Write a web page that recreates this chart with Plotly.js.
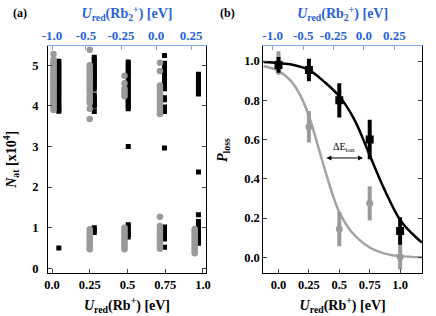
<!DOCTYPE html>
<html><head><meta charset="utf-8">
<script src="https://cdn.plot.ly/plotly-3.0.1.min.js"></script>
<style>html,body{margin:0;padding:0;background:#fff;}#plot{width:436px;height:316px;}</style>
</head><body><div id="plot"></div>
<script>
// ---- data (panel a): atom numbers N_at [x10^4] per cluster ----
const uTicks = [0, 0.25, 0.5, 0.75, 1.0];
const uTickText = ["0.0", "0.25", "0.5", "0.75", "1.0"];
const rb2TickText = ["-1.0", "-0.5", "-0.25", "0.0", "0.25"];
const rb2TickPosA = [0, 0.225, 0.457, 0.689, 0.921];
const rb2TickPosB = [-0.048, 0.204, 0.451, 0.703, 0.952];
const nTicks = [0, 1, 2, 3, 4, 5];
const pTicks = [0, 0.2, 0.4, 0.6, 0.8, 1.0];
const pTickText = ["0.0", "0.2", "0.4", "0.6", "0.8", "1.0"];

const greyU = [0.01, 0.25, 0.48, 0.715, 0.945];
const blackU = [0.045, 0.28, 0.505, 0.745, 0.97];

const greyN0 = [5.28, 5.14, 5.09, 5.05, 5.0, 4.96, 4.91, 4.86, 4.82, 4.77, 4.73, 4.68, 4.63, 4.59, 4.54, 4.5, 4.45, 4.41, 4.36, 4.31, 4.27, 4.22, 4.18, 4.13, 4.08, 4.04, 3.99, 3.94, 3.9];
const greyN25 = [5.38, 5.0, 4.93, 4.87, 4.8, 4.75, 4.69, 4.63, 4.58, 4.52, 4.46, 4.41, 4.35, 4.25, 4.18, 4.12, 4.07, 3.93, 3.68, 0.96, 0.9, 0.84, 0.78, 0.72, 0.67, 0.61, 0.56, 0.5, 0.47];
const greyN50 = [4.74, 4.56, 4.42, 4.36, 4.3, 4.24, 1.0, 0.95, 0.89, 0.84, 0.78, 0.73, 0.67, 0.62, 0.56, 0.51, 0.47];
const greyN75 = [5.06, 4.86, 4.5, 4.44, 4.38, 4.31, 4.22, 4.16, 4.09, 4.02, 3.95, 3.88, 3.8, 1.27, 1.04, 0.98, 0.92, 0.87, 0.81, 0.75, 0.7, 0.64, 0.58, 0.53, 0.48];
const greyN100 = [0.97, 0.92, 0.86, 0.8, 0.75, 0.69, 0.63, 0.58, 0.52, 0.47, 0.42, 0.37];

const blackN0 = [5.1, 5.04, 4.98, 4.92, 4.86, 4.8, 4.74, 4.68, 4.62, 4.56, 4.5, 4.44, 4.38, 4.32, 4.26, 4.2, 4.14, 4.08, 4.02, 3.96, 3.91, 3.87, 0.5];
const blackN25 = [5.2, 5.14, 5.08, 5.02, 4.96, 4.9, 4.84, 4.78, 4.72, 4.66, 4.6, 4.54, 4.48, 4.41, 4.27, 4.21, 4.15, 4.09, 4.03, 3.99, 3.86, 1.0, 0.94, 0.88];
const blackN50 = [5.08, 5.02, 4.96, 4.9, 4.84, 4.78, 4.72, 4.64, 4.58, 4.52, 4.46, 4.4, 4.34, 4.28, 4.22, 4.16, 4.1, 4.04, 3.98, 3.93, 3.0, 1.07, 1.01, 0.95, 0.89, 0.83, 0.77];
const blackN75 = [5.24, 5.05, 4.99, 4.93, 4.87, 4.81, 4.75, 4.69, 4.61, 4.55, 4.49, 4.42, 4.2, 4.15, 3.97, 3.91, 3.86, 2.96, 1.02, 0.96, 0.9, 0.84, 0.78, 0.72, 0.52];
const blackN100 = [4.78, 4.71, 4.64, 4.58, 4.52, 4.46, 4.4, 4.34, 4.29, 2.37, 1.32, 1.15, 1.09, 1.03, 0.97, 0.91, 0.85, 0.79, 0.73, 0.67, 0.62];

// ---- data (panel b): loss probability ----
const pU = [0, 0.25, 0.5, 0.75, 1.0];
const pBlack = [0.98, 0.954, 0.80, 0.60, 0.134];
const pBlackErr = [0.03, 0.047, 0.077, 0.09, 0.06];
const pGrey = [0.99, 0.665, 0.144, 0.275, 0.003];
const pGreyErr = [0.05, 0.07, 0.077, 0.077, 0.055];

const blackFitU = [-0.125, 0, 0.125, 0.25, 0.375, 0.5, 0.625, 0.75, 0.875, 1.0, 1.1, 1.18];
const blackFitP = [0.995, 0.99, 0.98, 0.955, 0.895, 0.82, 0.70, 0.52, 0.34, 0.19, 0.12, 0.075];
const greyFitU = [-0.125, 0, 0.1, 0.175, 0.25, 0.3, 0.375, 0.45, 0.5, 0.6, 0.75, 0.9, 1.0, 1.18];
const greyFitP = [0.975, 0.95, 0.90, 0.83, 0.72, 0.62, 0.46, 0.31, 0.23, 0.13, 0.05, 0.015, 0.006, 0.0];

const GREY = '#9a9a9a';
const BLUE = '#2a62d6';
const BLUELINE = '#7ea6e8';
const b = s => '<b>' + s + '</b>';

const greySets = [greyN0, greyN25, greyN50, greyN75, greyN100];
const blackSets = [blackN0, blackN25, blackN50, blackN75, blackN100];

const traces = [];
let bx = [], by = [];
blackSets.forEach((arr, i) => arr.forEach(v => { bx.push(blackU[i]); by.push(v); }));
traces.push({x: bx, y: by, xaxis: 'x', yaxis: 'y', type: 'scatter', mode: 'markers',
  marker: {symbol: 'square', size: 5, color: '#000'}, hoverinfo: 'skip'});
let gx = [], gy = [];
greySets.forEach((arr, i) => arr.forEach(v => { gx.push(greyU[i]); gy.push(v); }));
traces.push({x: gx, y: gy, xaxis: 'x', yaxis: 'y', type: 'scatter', mode: 'markers',
  marker: {symbol: 'circle', size: 6.5, color: GREY}, hoverinfo: 'skip'});

traces.push({x: greyFitU, y: greyFitP, xaxis: 'x2', yaxis: 'y2', type: 'scatter', mode: 'lines',
  line: {color: '#a3a3a3', width: 2.5, shape: 'spline', smoothing: 1}});
traces.push({x: blackFitU, y: blackFitP, xaxis: 'x2', yaxis: 'y2', type: 'scatter', mode: 'lines',
  line: {color: '#000', width: 2.5, shape: 'spline', smoothing: 1}});
traces.push({x: pU, y: pGrey, xaxis: 'x2', yaxis: 'y2', type: 'scatter', mode: 'markers',
  marker: {symbol: 'circle', size: 7, color: GREY},
  error_y: {type: 'data', array: pGreyErr, visible: true, color: GREY, thickness: 4, width: 2}});
traces.push({x: pU, y: pBlack, xaxis: 'x2', yaxis: 'y2', type: 'scatter', mode: 'markers',
  marker: {symbol: 'square', size: 8, color: '#000'},
  error_y: {type: 'data', array: pBlackErr, visible: true, color: '#000', thickness: 4, width: 2}});
traces.push({x: [0.5], y: [2], xaxis: 'x3', yaxis: 'y', mode: 'markers', marker: {opacity: 0}, hoverinfo: 'skip'});
traces.push({x: [0.5], y: [0.5], xaxis: 'x4', yaxis: 'y2', mode: 'markers', marker: {opacity: 0}, hoverinfo: 'skip'});

const FONT = 'Liberation Serif';
const tickF = {family: FONT, size: 12.5, color: '#000'};
const tickFB = {family: FONT, size: 13, color: BLUE};
const titleF = {family: FONT, size: 14, color: '#000'};
const titleFB = {family: FONT, size: 14, color: BLUE};
const botTitle = '<b><i>U</i><sub>red</sub>(Rb<sup>+</sup>) [eV]</b>';
const topTitle = '<b><i>U</i><sub>red</sub>(Rb<sub>2</sub><sup>+</sup>) [eV]</b>';

const yDom = [43.5 / 316, 270 / 316];
const baseX = {ticks: 'inside', ticklen: 4, tickwidth: 1, showline: true, linecolor: '#000', linewidth: 1,
  zeroline: false, showgrid: false, tickfont: tickF, tickvals: uTicks, ticktext: uTickText.map(b),
  title: {text: botTitle, font: titleF, standoff: 9}};
const topX = {ticks: 'inside', ticklen: 4, tickwidth: 1, showline: true, linecolor: BLUELINE, tickcolor: BLUELINE,
  linewidth: 1, zeroline: false, showgrid: false, tickfont: tickFB, side: 'top', ticktext: rb2TickText.map(b),
  title: {text: topTitle, font: titleFB, standoff: 5}};

const layout = {
  width: 436, height: 316, margin: {l: 0, r: 0, t: 0, b: 0},
  paper_bgcolor: '#fff', plot_bgcolor: '#fff', showlegend: false,
  font: {family: FONT, size: 12, color: '#000'},
  xaxis: Object.assign({}, baseX, {domain: [48 / 436, 206 / 436], range: [-0.0265, 1.02], anchor: 'y'}),
  xaxis3: Object.assign({}, topX, {domain: [48 / 436, 206 / 436], range: [-0.0265, 1.02], anchor: 'y', overlaying: 'x', tickvals: rb2TickPosA}),
  yaxis: {domain: yDom, range: [-0.103, 5.475], anchor: 'x', ticks: 'inside', ticklen: 4, showline: true, mirror: 'ticks',
    linecolor: '#000', linewidth: 1, zeroline: false, showgrid: false, tickfont: tickF, tickvals: nTicks,
    ticktext: nTicks.map(v => b(String(v))), ticklabelstandoff: 6,
    title: {text: '<b><i>N</i><sub>at</sub> [x10<sup>4</sup>]</b>', font: titleF, standoff: 12}},
  xaxis2: Object.assign({}, baseX, {domain: [263.3 / 436, 422 / 436], range: [-0.125, 1.18], anchor: 'y2'}),
  xaxis4: Object.assign({}, topX, {domain: [263.3 / 436, 422 / 436], range: [-0.125, 1.18], anchor: 'y2', overlaying: 'x2', tickvals: rb2TickPosB}),
  yaxis2: {domain: yDom, range: [-0.0774, 1.0764], anchor: 'x2', ticks: 'inside', ticklen: 4, showline: true, mirror: 'ticks',
    linecolor: '#000', linewidth: 1, zeroline: false, showgrid: false, tickfont: tickF,
    tickvals: pTicks, ticktext: pTickText.map(b)},
  annotations: [
    {text: '<b>(a)</b>', xref: 'paper', yref: 'paper', x: 20 / 436, y: 1 - 13 / 316, showarrow: false,
      font: {family: FONT, size: 12}, xanchor: 'center', yanchor: 'middle'},
    {text: '<b>(b)</b>', xref: 'paper', yref: 'paper', x: 227 / 436, y: 1 - 13 / 316, showarrow: false,
      font: {family: FONT, size: 12}, xanchor: 'center', yanchor: 'middle'},
    {text: '<b><i>P</i><sub>loss</sub></b>', xref: 'paper', yref: 'paper', x: 223 / 436, y: 1 - 150 / 316,
      textangle: -90, showarrow: false, font: titleF, xanchor: 'center', yanchor: 'middle'},
    {x: 0.695, y: 0.506, ax: 0.382, ay: 0.506, xref: 'x2', yref: 'y2', axref: 'x2', ayref: 'y2',
      showarrow: true, arrowside: 'end+start', arrowhead: 2, arrowsize: 1, arrowwidth: 1, arrowcolor: '#000', text: ''},
    {text: '\u0394E<sub>ion</sub>', x: 0.54, y: 0.56, xref: 'x2', yref: 'y2', showarrow: false,
      font: {family: FONT, size: 10, color: '#000'}}
  ]
};

Plotly.newPlot('plot', traces, layout, {staticPlot: true, displayModeBar: false});
</script></body></html>
